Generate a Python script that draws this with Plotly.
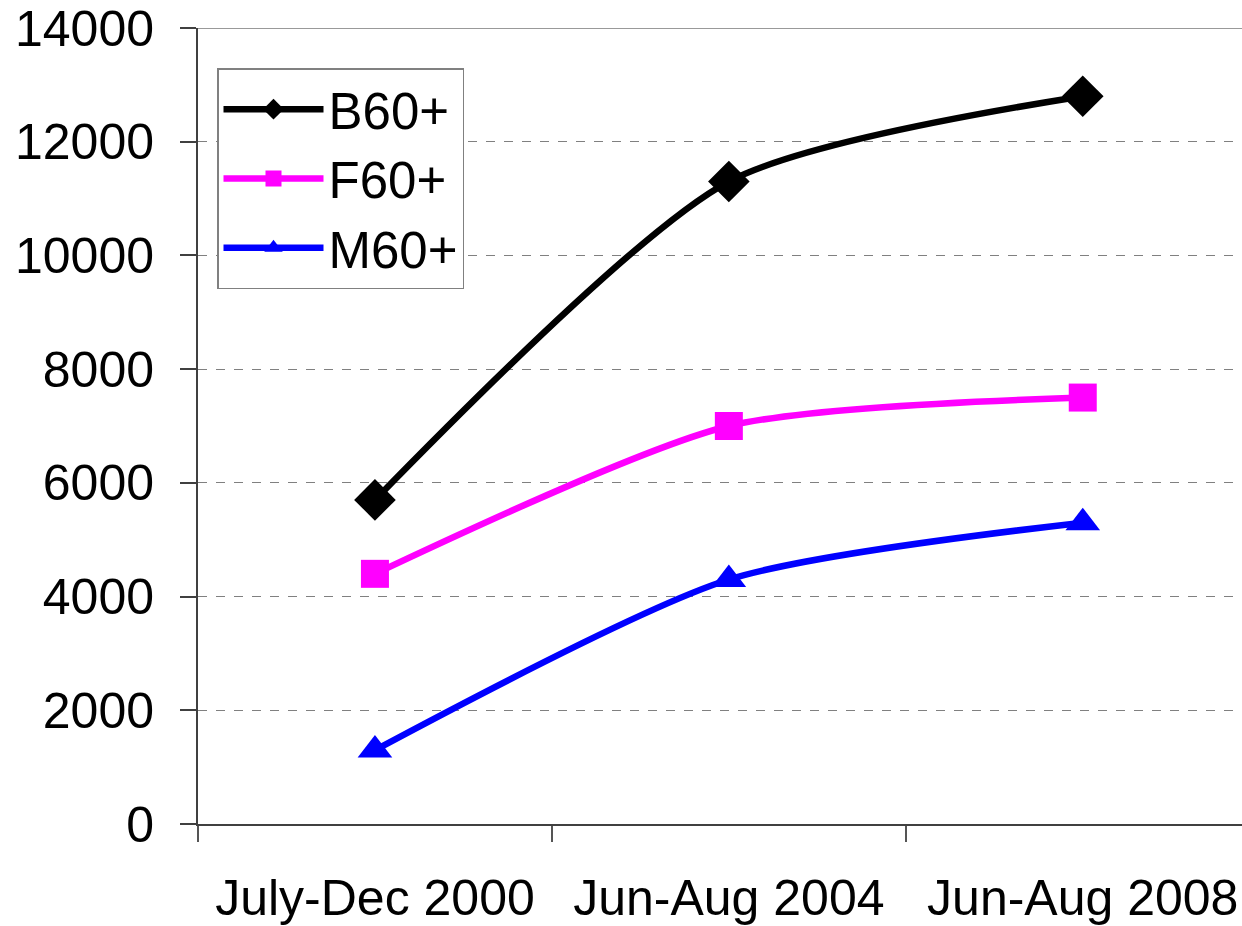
import plotly.graph_objects as go

categories = ["July-Dec 2000", "Jun-Aug 2004", "Jun-Aug 2008"]
b60 = [5700, 11300, 12800]
f60 = [4400, 7000, 7500]
m60 = [1300, 4300, 5300]
y_ticks = [0, 2000, 4000, 6000, 8000, 10000, 12000, 14000]
y_tick_text = [str(v) for v in y_ticks]

fig = go.Figure()
series = [
    ("B60+", b60, "#000000", "diamond", 32),
    ("F60+", f60, "#FF00FF", "square", 28),
    ("M60+", m60, "#0000FF", "triangle-up", 30),
]
for name, vals, color, sym, size in series:
    fig.add_trace(go.Scatter(
        x=categories, y=vals, name=name, mode="lines+markers",
        line=dict(color=color, width=6.5, shape="spline", smoothing=0.7),
        marker=dict(symbol=sym, size=size, color=color),
    ))

font = dict(family="Liberation Sans, Arial, sans-serif", size=50, color="#000000")
legend_font = dict(family="Liberation Sans, Arial, sans-serif", size=51, color="#000000")

fig.update_layout(
    width=1242, height=926,
    margin=dict(l=198, r=0, t=28, b=102, autoexpand=False),
    paper_bgcolor="white", plot_bgcolor="white",
    font=font,
    showlegend=True,
    legend=dict(
        x=(217 - 198) / (1242 - 198), y=1 - (68 - 28) / (824 - 28),
        xanchor="left", yanchor="top",
        bordercolor="#808080", borderwidth=1.5, bgcolor="white",
        font=legend_font, itemwidth=100, tracegroupgap=0,
    ),
    shapes=[dict(type="line", xref="paper", x0=0, x1=1, yref="y", y0=14000, y1=14000,
                 line=dict(color="#999999", width=2))],
)
fig.update_xaxes(
    type="category", range=[-0.5, 2.45], automargin=False,
    showline=True, linecolor="#404040", linewidth=2,
    ticks="outside", tickson="boundaries", ticklen=16, tickcolor="#555555", tickwidth=1.5,
    showgrid=False, ticklabelstandoff=29, tickfont=font,
)
fig.update_yaxes(
    range=[0, 14000], tickvals=y_ticks, ticktext=y_tick_text, automargin=False,
    showline=True, linecolor="#404040", linewidth=2,
    ticks="outside", ticklen=16, tickcolor="#404040", tickwidth=1.5,
    showgrid=True, gridcolor="#808080", griddash="dash", gridwidth=1.2,
    zeroline=False, ticklabelstandoff=16, tickfont=font,
)

fig.write_html(
    "out.html",
    config={"displayModeBar": False},
    post_script="document.body.style.margin='0';document.body.style.overflow='hidden';",
)
